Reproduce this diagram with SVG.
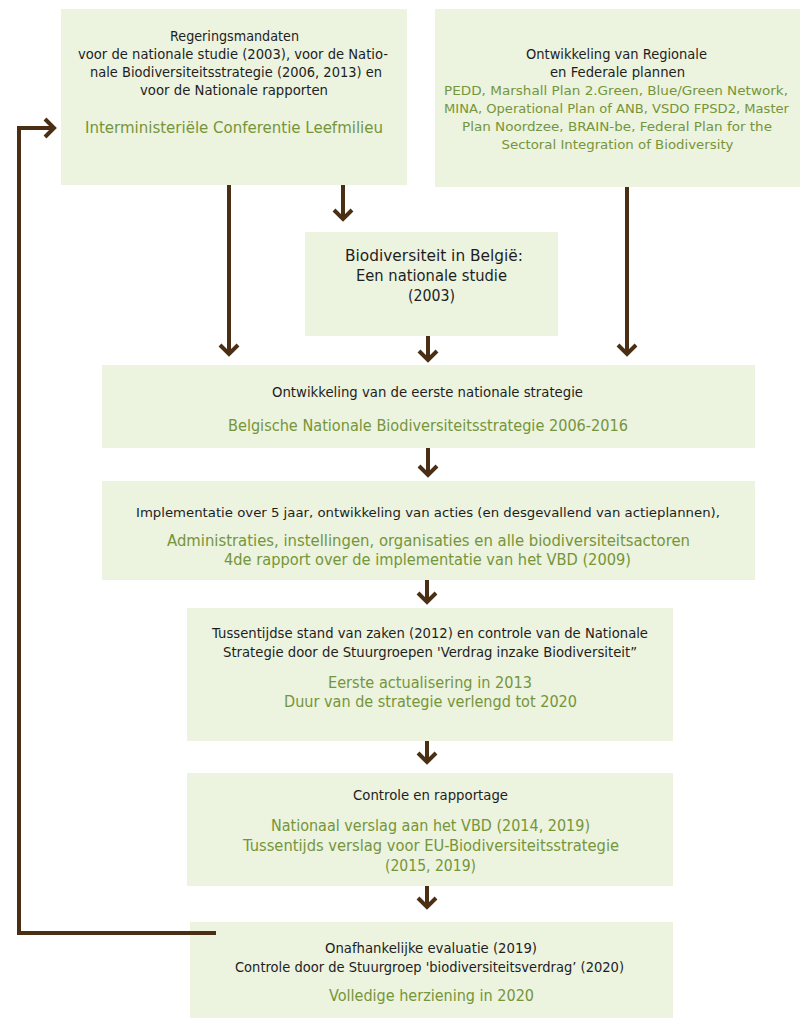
<svg xmlns="http://www.w3.org/2000/svg" width="806" height="1024" viewBox="0 0 806 1024">
<style>
.box{fill:#ecf3df}
text{font-family:"DejaVu Sans","Liberation Sans",sans-serif;text-anchor:middle}
.k{fill:#1e1e1e;font-size:14px}
.g{fill:#76953a;font-size:16px}
.b{fill:#1e1e1e;font-size:16px}
.s{font-size:12.5px}
.ln{stroke:#4a2f14;stroke-width:4;fill:none}
</style>
<defs>
<marker id="ah" markerUnits="userSpaceOnUse" markerWidth="24" markerHeight="24" viewBox="0 0 24 24" refX="12" refY="12" orient="auto">
<path d="M3,3 L12,12 L3,21" stroke="#4a2f14" stroke-width="4" fill="none"/>
</marker>
</defs>
<rect width="806" height="1024" fill="#ffffff"/>

<g id="n1">
<rect class="box" x="61" y="9" width="346" height="176"/>
<text class="k" x="234.5" y="41" textLength="129" lengthAdjust="spacingAndGlyphs">Regeringsmandaten</text>
<text class="k" x="233" y="59" textLength="310" lengthAdjust="spacingAndGlyphs">voor de nationale studie (2003), voor de Natio-</text>
<text class="k" x="236" y="77" textLength="292" lengthAdjust="spacingAndGlyphs">nale Biodiversiteitsstrategie (2006, 2013) en</text>
<text class="k" x="234" y="95" textLength="188" lengthAdjust="spacingAndGlyphs">voor de Nationale rapporten</text>
<text class="g" x="234" y="133" textLength="298" lengthAdjust="spacingAndGlyphs">Interministeriële Conferentie Leefmilieu</text>
</g>

<g id="n2">
<rect class="box" x="435" y="9" width="365" height="178"/>
<text class="k" x="616.5" y="59" textLength="181" lengthAdjust="spacingAndGlyphs">Ontwikkeling van Regionale</text>
<text class="k" x="617.5" y="77" textLength="135" lengthAdjust="spacingAndGlyphs">en Federale plannen</text>
<text class="g s" x="616" y="95" textLength="344" lengthAdjust="spacingAndGlyphs">PEDD, Marshall Plan 2.Green, Blue/Green Network,</text>
<text class="g s" x="616.5" y="113" textLength="345" lengthAdjust="spacingAndGlyphs">MINA, Operational Plan of ANB, VSDO FPSD2, Master</text>
<text class="g s" x="617" y="131" textLength="310" lengthAdjust="spacingAndGlyphs">Plan Noordzee, BRAIN-be, Federal Plan for the</text>
<text class="g s" x="617.5" y="149" textLength="232" lengthAdjust="spacingAndGlyphs">Sectoral Integration of Biodiversity</text>
</g>

<g id="n3">
<rect class="box" x="305" y="232" width="253" height="104"/>
<text class="b" x="434" y="261" textLength="178" lengthAdjust="spacingAndGlyphs">Biodiversiteit in België:</text>
<text class="b" x="431.5" y="281" textLength="151" lengthAdjust="spacingAndGlyphs">Een nationale studie</text>
<text class="b" x="431.5" y="301" textLength="47" lengthAdjust="spacingAndGlyphs">(2003)</text>
</g>

<g id="n4">
<rect class="box" x="102" y="365" width="653" height="83"/>
<text class="k" x="427.5" y="397" textLength="311" lengthAdjust="spacingAndGlyphs">Ontwikkeling van de eerste nationale strategie</text>
<text class="g" x="428" y="431" textLength="400" lengthAdjust="spacingAndGlyphs">Belgische Nationale Biodiversiteitsstrategie 2006-2016</text>
</g>

<g id="n5">
<rect class="box" x="102" y="481" width="653" height="99"/>
<text class="k" x="428" y="517" textLength="584" lengthAdjust="spacingAndGlyphs" style="font-size:13px">Implementatie over 5 jaar, ontwikkeling van acties (en desgevallend van actieplannen),</text>
<text class="g" x="428.5" y="546" textLength="523" lengthAdjust="spacingAndGlyphs" style="font-size:15px">Administraties, instellingen, organisaties en alle biodiversiteitsactoren</text>
<text class="g" x="427.5" y="565" textLength="407" lengthAdjust="spacingAndGlyphs" style="font-size:15px">4de rapport over de implementatie van het VBD (2009)</text>
</g>

<g id="n6">
<rect class="box" x="187" y="608" width="486" height="133"/>
<text class="k" x="430" y="638" textLength="436" lengthAdjust="spacingAndGlyphs">Tussentijdse stand van zaken (2012) en controle van de Nationale</text>
<text class="k" x="430" y="657" textLength="414" lengthAdjust="spacingAndGlyphs">Strategie door de Stuurgroepen 'Verdrag inzake Biodiversiteit”</text>
<text class="g" x="430" y="688" textLength="204" lengthAdjust="spacingAndGlyphs">Eerste actualisering in 2013</text>
<text class="g" x="430.5" y="707" textLength="293" lengthAdjust="spacingAndGlyphs">Duur van de strategie verlengd tot 2020</text>
</g>

<g id="n7">
<rect class="box" x="187" y="773" width="486" height="113"/>
<text class="k" x="430.5" y="800" textLength="155" lengthAdjust="spacingAndGlyphs">Controle en rapportage</text>
<text class="g" x="430.5" y="831" textLength="319" lengthAdjust="spacingAndGlyphs">Nationaal verslag aan het VBD (2014, 2019)</text>
<text class="g" x="431" y="851" textLength="376" lengthAdjust="spacingAndGlyphs">Tussentijds verslag voor EU-Biodiversiteitsstrategie</text>
<text class="g" x="430.5" y="871" textLength="91" lengthAdjust="spacingAndGlyphs">(2015, 2019)</text>
</g>

<g id="n8">
<rect class="box" x="190" y="922" width="483" height="96"/>
<text class="k" x="431" y="953" textLength="212" lengthAdjust="spacingAndGlyphs">Onafhankelijke evaluatie (2019)</text>
<text class="k" x="429.5" y="972" textLength="389" lengthAdjust="spacingAndGlyphs">Controle door de Stuurgroep 'biodiversiteitsverdrag’ (2020)</text>
<text class="g" x="431.5" y="1001" textLength="205" lengthAdjust="spacingAndGlyphs">Volledige herziening in 2020</text>
</g>

<g id="connectors">
<line class="ln" x1="229" y1="185" x2="229" y2="354" marker-end="url(#ah)"/>
<line class="ln" x1="343" y1="185" x2="343" y2="219" marker-end="url(#ah)"/>
<line class="ln" x1="627" y1="187" x2="627" y2="354" marker-end="url(#ah)"/>
<line class="ln" x1="428" y1="336" x2="428" y2="360" marker-end="url(#ah)"/>
<line class="ln" x1="428" y1="448" x2="428" y2="475" marker-end="url(#ah)"/>
<line class="ln" x1="427" y1="580" x2="427" y2="602" marker-end="url(#ah)"/>
<line class="ln" x1="427" y1="741" x2="427" y2="762" marker-end="url(#ah)"/>
<line class="ln" x1="427" y1="886" x2="427" y2="907" marker-end="url(#ah)"/>
<polyline class="ln" points="216,933 19,933 19,128 54,128" marker-end="url(#ah)"/>
</g>
</svg>
